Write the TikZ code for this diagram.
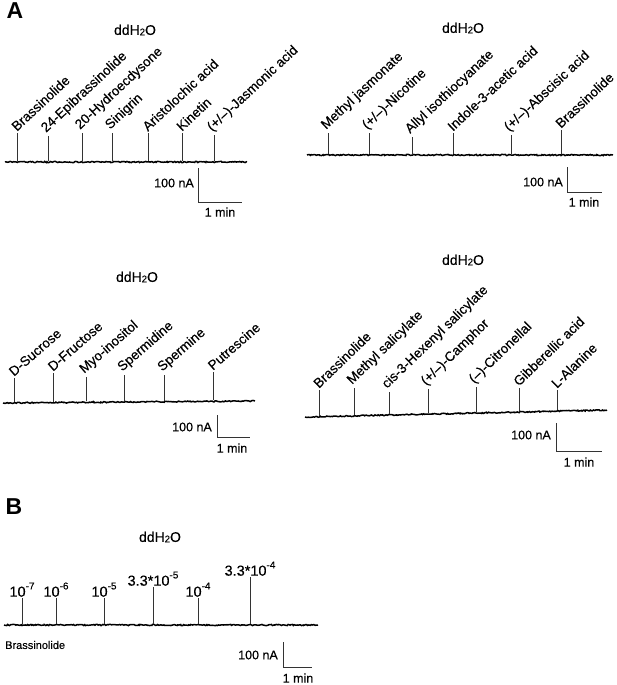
\documentclass[tikz,border=0pt]{standalone}
\usepackage{fontspec}
\setmainfont{Liberation Sans}
\newfontfamily\txtfont{Liberation Sans}[FakeBold=0.35]
\usetikzlibrary{decorations.pathmorphing}
\newcommand\waterlab{ddH\raisebox{-0.4pt}{\fontsize{9.5}{10}\selectfont 2}O}
\newcommand\tenpow[1]{10\raisebox{0.5em}{\fontsize{10}{10}\selectfont #1}}
\tikzset{
  trace/.style={line width=1.5pt, decorate, decoration={random steps, segment length=1.2pt, amplitude=0.6pt}},
  stick/.style={line width=1pt, black!80},
  lab/.style={anchor=south west, inner sep=0.6pt, font=\txtfont\fontsize{13.5}{14}\selectfont},
  labb/.style={anchor=south west, inner sep=0.6pt, font=\txtfont\fontsize{13.5}{14}\selectfont},
  labc/.style={anchor=south west, inner sep=0.6pt, font=\txtfont\fontsize{13.5}{14}\selectfont},
  conclab/.style={anchor=south, inner sep=1pt, font=\txtfont\fontsize{14.5}{15}\selectfont},
  scalebar/.style={line width=1pt, black!80},
  sclab/.style={inner sep=1pt, font=\txtfont\fontsize{12.5}{13}\selectfont},
  water/.style={font=\txtfont\fontsize{14}{15}\selectfont},
  panel/.style={font=\fontsize{23}{24}\selectfont\bfseries},
}
\begin{document}
\begin{tikzpicture}[x=1pt,y=-1pt]
\useasboundingbox (0,0) rectangle (617,685);
\pgfmathsetseed{7}
\node[panel] (A) at (15,11) {A};
% ---------- panel 1 (top left)
\node[water] (w1) at (135,30) {\waterlab};
\coordinate (t1a) at (5,162); \coordinate (t1b) at (247,162);
\draw[trace] (t1a) -- (t1b);
\foreach \i/\x/\t/\l in {1/17/133/Brassinolide, 2/48/136/24-Epibrassinolide, 3/82/133/20-Hydroecdysone, 4/112/133/Sinigrin, 5/148/133/Aristolochic acid, 6/182/133/Kinetin, 7/214/135/{(+/–)-Jasmonic acid}}{
  \coordinate (p1s\i) at (\x,161);
  \coordinate (p1t\i) at (\x,\t);
  \draw[stick] (p1s\i) -- (p1t\i);
  \node[lab, rotate=43] (p1l\i) at (p1t\i) {\l};
}
\coordinate (s1a) at (198,168); \coordinate (s1b) at (198,202); \coordinate (s1c) at (242,202);
\draw[scalebar] (s1a) -- (s1b) -- (s1c);
\node[sclab, anchor=east] (s1y) at (195,183) {100 nA};
\node[sclab] (s1x) at (220,212) {1 min};
% ---------- panel 2 (top right)
\node[water] (w2) at (463,28) {\waterlab};
\coordinate (t2a) at (307,155); \coordinate (t2b) at (613,155);
\draw[trace] (t2a) -- (t2b);
\foreach \i/\x/\t/\l in {1/328/133/Methyl jasmonate, 2/369/133/{(+/–)-Nicotine}, 3/412/137/Allyl isothiocyanate, 4/453/133/Indole-3-acetic acid, 5/511/135/{(+/–)-Abscisic acid}, 6/561/130/Brassinolide}{
  \coordinate (p2s\i) at (\x,154);
  \coordinate (p2t\i) at (\x,\t);
  \draw[stick] (p2s\i) -- (p2t\i);
  \node[labb, rotate=43] (p2l\i) at (p2t\i) {\l};
}
\coordinate (s2a) at (567,167); \coordinate (s2b) at (567,192); \coordinate (s2c) at (602,192);
\draw[scalebar] (s2a) -- (s2b) -- (s2c);
\node[sclab, anchor=east] (s2y) at (564,182) {100 nA};
\node[sclab] (s2x) at (584,202) {1 min};
% ---------- panel 3 (bottom left)
\node[water] (w3) at (137,277) {\waterlab};
\coordinate (t3a) at (3,403); \coordinate (t3b) at (255,401);
\draw[trace] (t3a) -- (t3b);
\foreach \i/\x/\t/\l in {1/14/378/D-Sucrose, 2/53/373/D-Fructose, 3/86/377/Myo-inositol, 4/124/375/Spermidine, 5/164/375/Spermine, 6/213/372/Putrescine}{
  \pgfmathsetmacro\yb{402-2*(\x-3)/252}
  \coordinate (p3s\i) at (\x,\yb);
  \coordinate (p3t\i) at (\x,\t);
  \draw[stick] (p3s\i) -- (p3t\i);
  \node[labc, rotate=41] (p3l\i) at (p3t\i) {\l};
}
\coordinate (s3a) at (217,415); \coordinate (s3b) at (217,437); \coordinate (s3c) at (250,437);
\draw[scalebar] (s3a) -- (s3b) -- (s3c);
\node[sclab, anchor=east] (s3y) at (213,427) {100 nA};
\node[sclab] (s3x) at (232,448) {1 min};
% ---------- panel 4 (bottom right)
\node[water] (w4) at (463,260) {\waterlab};
\coordinate (t4a) at (305,417); \coordinate (t4b) at (607,410);
\draw[trace] (t4a) -- (t4b);
\foreach \i/\x/\t/\l in {1/319/390/Brassinolide, 2/354/388/Methyl salicylate, 3/389/392/cis-3-Hexenyl salicylate, 4/428/389/{(+/–)-Camphor}, 5/476/387/(–)-Citronellal, 6/519/388/Gibberellic acid, 7/557/390/L-Alanine}{
  \pgfmathsetmacro\yb{416-7*(\x-305)/302}
  \coordinate (p4s\i) at (\x,\yb);
  \coordinate (p4t\i) at (\x,\t);
  \draw[stick] (p4s\i) -- (p4t\i);
  \node[labc, rotate=44] (p4l\i) at (p4t\i) {\l};
}
\coordinate (s4a) at (556,423); \coordinate (s4b) at (556,451); \coordinate (s4c) at (602,451);
\draw[scalebar] (s4a) -- (s4b) -- (s4c);
\node[sclab, anchor=east] (s4y) at (552,435) {100 nA};
\node[sclab] (s4x) at (579,462) {1 min};
% ---------- panel B
\node[panel] (B) at (14,507) {B};
\node[water] (w5) at (160,537) {\waterlab};
\coordinate (t5a) at (4,625); \coordinate (t5b) at (318,625);
\draw[trace] (t5a) -- (t5b);
\foreach \i/\x/\t/\l in {1/22/598/\tenpow{-7}, 2/56/598/\tenpow{-6}, 3/104/598/\tenpow{-5}, 4/153/587/3.3*\tenpow{-5}, 5/198/598/\tenpow{-4}, 6/250/577/3.3*\tenpow{-4}}{
  \coordinate (p5s\i) at (\x,624);
  \coordinate (p5t\i) at (\x,\t);
  \draw[stick] (p5s\i) -- (p5t\i);
  \node[conclab] (p5l\i) at (p5t\i) {\l};
}
\node[anchor=west, inner sep=0pt, font=\txtfont\fontsize{11}{12}\selectfont] (br) at (5,645) {Brassinolide};
\coordinate (s5a) at (283,642); \coordinate (s5b) at (283,667); \coordinate (s5c) at (312,667);
\draw[scalebar] (s5a) -- (s5b) -- (s5c);
\node[sclab, anchor=east] (s5y) at (279,655) {100 nA};
\node[sclab] (s5x) at (298,678) {1 min};
\end{tikzpicture}
\end{document}
